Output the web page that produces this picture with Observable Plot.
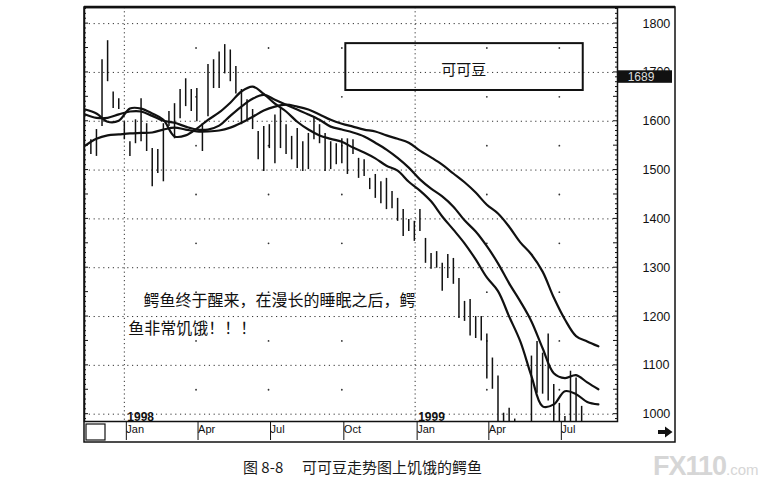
<!DOCTYPE html>
<html><head><meta charset="utf-8">
<script src="https://cdn.jsdelivr.net/npm/d3@7"></script>
<script src="https://cdn.jsdelivr.net/npm/@observablehq/plot@0.6"></script>
<style>
html,body{margin:0;padding:0;background:#fff;}
#wrap{position:relative;width:760px;height:493px;overflow:hidden;background:#fff;}
#chart{position:absolute;left:0;top:0;}
.cap{position:absolute;top:456px;font-family:"Noto Sans CJK SC",sans-serif;font-size:15px;line-height:22px;color:#1a1a1a;white-space:pre;}
#wm{position:absolute;left:653px;top:451px;color:#d6d6d6;font-family:"Liberation Sans",Arial,sans-serif;white-space:pre;}
#wm b{font-size:27px;letter-spacing:-1px;}
#wm span{font-size:15px;}
</style></head>
<body>
<div id="wrap">
  <div id="chart"></div>
  <div class="cap" style="left:243px">图 8-8</div>
  <div class="cap" style="left:302px">可可豆走势图上饥饿的鳄鱼</div>
  <div id="wm"><b>FX110</b><span>.com</span></div>
</div>
<script>
// ---- data (weekly bars, first bar week of 1997-11-20) ----
const barStart = "1997-11-20";
const barHigh = [1562,1583,1726,1765,1660,1646,1599,1558,1603,1646,1595,1544,1542,1595,1620,1636,1665,1687,1665,1667,1595,1716,1726,1742,1757,1746,1712,1665,1644,1624,1579,1589,1593,1613,1626,1593,1569,1585,1558,1575,1609,1593,1575,1558,1554,1564,1564,1562,1524,1521,1483,1491,1476,1483,1456,1442,1419,1399,1395,1419,1360,1329,1333,1309,1327,1319,1278,1231,1235,1200,1200,1164,1115,1078,1002,1012,990,975,970,1119,1149,1125,1164,1061,1022,995,1088,1074,1016];
const barLow  = [1532,1528,1589,1681,1626,1624,1562,1528,1554,1558,1538,1466,1493,1476,1589,1564,1605,1630,1620,1599,1538,1609,1667,1667,1697,1681,1656,1593,1603,1583,1521,1497,1544,1513,1544,1532,1521,1503,1497,1501,1562,1554,1497,1501,1511,1513,1491,1532,1483,1487,1460,1442,1431,1419,1421,1395,1364,1374,1354,1374,1309,1297,1299,1252,1278,1266,1196,1190,1160,1155,1150,1072,1051,975,960,965,950,930,925,960,1043,1041,1027,975,970,960,975,980,975];

// ---- alligator lines, sampled every two weeks from 1997-11-13 ----
const lineStart = "1997-11-13";
const jaw   = [1550,1564,1571,1573,1575,1576,1577,1583,1587,1583,1579,1579,1581,1587,1597,1609,1622,1630,1634,1630,1624,1614,1603,1595,1589,1583,1579,1571,1564,1556,1540,1526,1511,1493,1475,1454,1429,1411,1384,1352,1327,1292,1239,1194,1160,1149,1139];
const teeth = [1614,1607,1607,1614,1620,1620,1611,1601,1597,1589,1583,1583,1591,1611,1630,1646,1654,1644,1634,1624,1614,1603,1589,1583,1577,1569,1556,1542,1525,1505,1481,1462,1446,1425,1397,1374,1344,1309,1268,1231,1190,1135,1084,1074,1080,1065,1051];
const lips  = [1624,1616,1599,1601,1626,1626,1616,1603,1569,1571,1585,1603,1618,1638,1661,1671,1656,1636,1620,1599,1583,1571,1564,1558,1546,1536,1524,1509,1499,1476,1458,1436,1405,1378,1350,1317,1280,1252,1200,1149,1078,1016,1020,1047,1041,1025,1020];

// ---- axes / labels ----
const yTicks = [1000,1100,1200,1300,1400,1500,1600,1700,1800];
const minorLevels = [1050,1150,1250,1350,1450,1550,1650,1750];
const quarterTicks = ["1998-01-01","1998-04-01","1998-07-01","1998-10-01","1999-01-01","1999-04-01","1999-07-01"];
const yearStarts = ["1998-01-01","1999-01-01"];
const yearLabels = ["1998","1999"];
const dotQuarters = ["1998-04-01","1998-07-01","1998-10-01","1999-04-01","1999-07-01"];
const lastPrice = 1689;
const titleText = "可可豆";
const note1 = "鳄鱼终于醒来，在漫长的睡眠之后，鳄";
const note2 = "鱼非常饥饿！！！";

// ---- build tables ----
const d0 = new Date(barStart);
const bars = barHigh.map((h, i) => ({date: d3.utcDay.offset(d0, 7 * i), high: h, low: barLow[i]}));
const l0 = new Date(lineStart);
const lineData = [];
[["jaw", jaw], ["teeth", teeth], ["lips", lips]].forEach(([name, vals]) => {
  vals.forEach((v, i) => lineData.push({series: name, date: d3.utcDay.offset(l0, 14 * i), value: v}));
});
const dots = [];
dotQuarters.forEach(q => minorLevels.forEach(v => dots.push({date: new Date(q), value: v})));
const years = yearStarts.map((d, i) => ({date: new Date(d), label: yearLabels[i]}));

const plot = Plot.plot({
  width: 760, height: 450,
  marginLeft: 84, marginRight: 143, marginTop: 7, marginBottom: 29,
  style: {fontFamily: "'Liberation Sans', Arial, sans-serif", fontSize: "12px", color: "#111", background: "#fff"},
  x: {type: "utc", domain: [new Date("1997-11-12"), new Date("1999-09-12")], label: null},
  y: {domain: [985, 1833], label: null},
  marks: [
    Plot.ruleY(yTicks, {stroke: "#333", strokeWidth: 1, strokeDasharray: "1.2,3.6"}),
    Plot.ruleX(yearStarts.map(d => new Date(d)), {stroke: "#333", strokeWidth: 1, strokeDasharray: "1.2,3"}),
    Plot.dot(dots, {x: "date", y: "value", r: 0.9, fill: "#333", stroke: null}),
    Plot.ruleX(bars, {x: "date", y1: "low", y2: "high", stroke: "#111", strokeWidth: 1.5, clip: true}),
    Plot.line(lineData, {x: "date", y: "value", z: "series", stroke: "#111", strokeWidth: 2.2, curve: "catmull-rom", clip: true}),
    Plot.rect([titleText], {x1: () => new Date("1998-10-06"), x2: () => new Date("1999-07-31"), y1: () => 1663, y2: () => 1759, fill: "none", stroke: "#111", strokeWidth: 2}),
    Plot.text([titleText], {x: () => new Date("1999-03-03"), y: () => 1704, text: d => d, fontSize: 15, fontFamily: "'Noto Sans CJK SC', sans-serif", fill: "#111"}),
    Plot.text([note1], {x: () => new Date("1998-01-25"), y: () => 1232, text: d => d, textAnchor: "start", fontSize: 16, fontFamily: "'Noto Sans CJK SC', sans-serif", fill: "#111"}),
    Plot.text([note2], {x: () => new Date("1998-01-06"), y: () => 1175, text: d => d, textAnchor: "start", fontSize: 16, fontFamily: "'Noto Sans CJK SC', sans-serif", fill: "#111"}),
    Plot.text(years, {x: "date", text: "label", frameAnchor: "bottom", textAnchor: "start", lineAnchor: "bottom", dx: 3, dy: -1, fontSize: 12, fontWeight: "bold", fill: "#111"}),
    Plot.axisY({anchor: "right", ticks: yTicks, tickSize: 0, tickPadding: 25, tickFormat: d => String(d), fontSize: 12.5, label: null}),
    Plot.axisX({ticks: quarterTicks.map(d => new Date(d)), tickSize: 19, tickPadding: -15, tickFormat: d3.utcFormat("%b"), textAnchor: "start", dx: 2, fontSize: 11, label: null}),
    Plot.frame({stroke: "#111", strokeWidth: 1.5})
  ]
});
document.getElementById("chart").appendChild(plot);

// ---- decorations drawn with the plot's own y scale ----
const svg = d3.select(plot);
const ys = plot.scale("y");
const g = svg.append("g").attr("stroke", "#111").attr("fill", "none");
// minor ticks on inner left and right borders
for (let v = 990; v <= 1830; v += 10) {
  const y = ys.apply(v);
  const len = v % 50 === 0 ? 4 : 2;
  g.append("line").attr("x1", 84).attr("x2", 84 + len).attr("y1", y).attr("y2", y).attr("stroke-width", 1);
  g.append("line").attr("x1", 617).attr("x2", 617 - len).attr("y1", y).attr("y2", y).attr("stroke-width", 1);
}
// outer frame, thick top
g.append("rect").attr("x", 84).attr("y", 7).attr("width", 591).attr("height", 435).attr("stroke-width", 1.5);
g.append("line").attr("x1", 84).attr("x2", 675).attr("y1", 7).attr("y2", 7).attr("stroke-width", 2.5);
// small square in the date strip
g.append("rect").attr("x", 86).attr("y", 424).attr("width", 19).attr("height", 16).attr("stroke-width", 1.2);
// arrow
svg.append("path").attr("d", "M658,430 h7 v-3.5 l7.5,5.5 l-7.5,5.5 v-3.5 h-7 z").attr("fill", "#111");
// last price marker
const yp = ys.apply(lastPrice);
svg.append("rect").attr("x", 618).attr("y", yp - 7).attr("width", 54).attr("height", 12.5).attr("fill", "#111");
svg.append("text").attr("x", 641).attr("y", yp + 4).attr("fill", "#ddd")
  .attr("font-family", "'Liberation Sans', Arial, sans-serif").attr("font-size", 12).text(String(lastPrice));
</script>
</body></html>
